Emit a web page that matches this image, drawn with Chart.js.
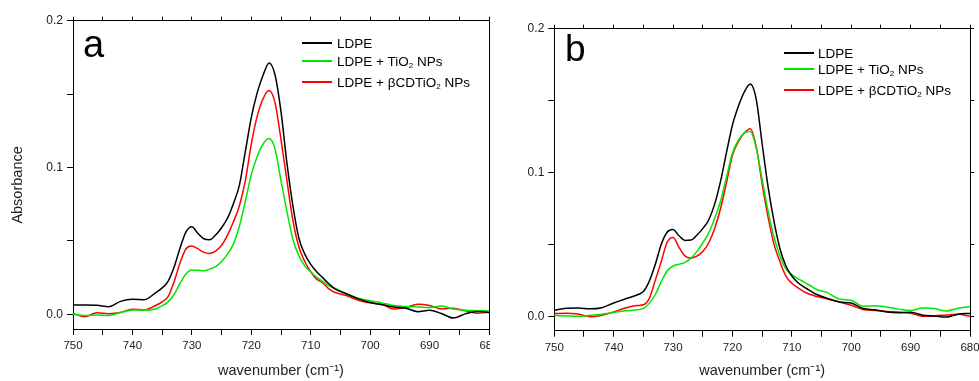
<!DOCTYPE html>
<html>
<head>
<meta charset="utf-8">
<script src="https://cdn.jsdelivr.net/npm/chart.js@4.4.0/dist/chart.umd.min.js"></script>
<style>
  body { margin: 0; background: #fff; width: 979px; height: 381px; overflow: hidden; position: relative;
         font-family: "Liberation Sans", Arial, sans-serif; }
  .panel { position: absolute; top: 0; height: 381px; overflow: hidden; }
  #panelA { left: 0; width: 490px; }
  #panelB { left: 490px; width: 489px; }
  .letter { position: absolute; color: #000; line-height: 1; }
  .legline { position: absolute; width: 30px; height: 2px; }
  .legtext { position: absolute; font-size: 13.5px; line-height: 16px; color: #000; white-space: nowrap; }
  .legtext sub { font-size: 0.6em; vertical-align: -0.3em; line-height: 0; }
</style>
</head>
<body>
<div class="panel" id="panelA"><canvas id="chartA" width="520" height="381"></canvas></div>
<div class="panel" id="panelB"><canvas id="chartB" width="510" height="381"></canvas></div>
<div class="letter" style="left:83px; top:25px; font-size:38px;">a</div>
<div class="letter" style="left:565px; top:30px; font-size:37px;">b</div>
<div id="legendA"></div>
<div id="legendB"></div>
<script>
// wavenumber grid (cm-1), shared by both panels
var wavenumber = [750, 748, 746, 744, 742, 740, 738, 736,
  735, 734, 733, 732, 731, 730, 729, 728, 727, 726, 725, 724, 723, 722, 721, 720, 719, 718, 717, 716,
  715, 714, 713, 712, 711, 710, 709, 708, 707, 706,
  704, 702, 700, 698, 696, 694, 692, 690, 688, 686, 684, 682, 680];

// panel a
var ldpeA = [0.0063, 0.0063, 0.0062, 0.0052, 0.0088, 0.0102, 0.0100, 0.0150,
  0.0180, 0.0225, 0.0320, 0.0450, 0.0560, 0.0596, 0.0552, 0.0515, 0.0508, 0.0540, 0.0590, 0.0655, 0.0755, 0.0880, 0.1110, 0.1340, 0.1510, 0.1630, 0.1712, 0.1630,
  0.1380, 0.1030, 0.0740, 0.0520, 0.0410, 0.0340, 0.0290, 0.0250, 0.0210, 0.0175,
  0.0140, 0.0105, 0.0080, 0.0065, 0.0050, 0.0042, 0.0018, 0.0028, 0.0005, -0.0025, 0.0003, 0.0020, 0.0012];
var tio2A = [0.0000, -0.0008, -0.0005, -0.0008, 0.0012, 0.0030, 0.0028, 0.0038,
  0.0058, 0.0085, 0.0135, 0.0210, 0.0275, 0.0302, 0.0300, 0.0296, 0.0308, 0.0325, 0.0360, 0.0410, 0.0480, 0.0600, 0.0770, 0.0950, 0.1075, 0.1160, 0.1197, 0.1125,
  0.0910, 0.0700, 0.0510, 0.0400, 0.0330, 0.0290, 0.0252, 0.0225, 0.0195, 0.0180,
  0.0138, 0.0110, 0.0092, 0.0078, 0.0060, 0.0053, 0.0050, 0.0046, 0.0056, 0.0036, 0.0027, 0.0025, 0.0023];
var cdTio2A = [0.0005, -0.0016, 0.0010, 0.0004, 0.0012, 0.0035, 0.0030, 0.0062,
  0.0085, 0.0120, 0.0220, 0.0350, 0.0445, 0.0465, 0.0447, 0.0422, 0.0415, 0.0430, 0.0470, 0.0540, 0.0630, 0.0740, 0.0910, 0.1160, 0.1350, 0.1470, 0.1524, 0.1440,
  0.1190, 0.0910, 0.0640, 0.0460, 0.0360, 0.0290, 0.0240, 0.0215, 0.0175, 0.0150,
  0.0128, 0.0095, 0.0078, 0.0068, 0.0036, 0.0046, 0.0068, 0.0060, 0.0036, 0.0042, 0.0024, 0.0008, 0.0014];

// panel b
var ldpeB = [0.0042, 0.0056, 0.0058, 0.0052, 0.0060, 0.0093, 0.0122, 0.0150,
  0.0172, 0.0245, 0.0360, 0.0500, 0.0585, 0.0603, 0.0560, 0.0528, 0.0530, 0.0564, 0.0610, 0.0670, 0.0780, 0.0940, 0.1140, 0.1330, 0.1460, 0.1560, 0.1615, 0.1510,
  0.1200, 0.0900, 0.0660, 0.0470, 0.0350, 0.0280, 0.0235, 0.0205, 0.0180, 0.0155,
  0.0125, 0.0100, 0.0092, 0.0055, 0.0045, 0.0030, 0.0025, 0.0028, 0.0008, 0.0002, -0.0005, 0.0015, 0.0020];
var tio2B = [0.0005, 0.0002, 0.0000, 0.0007, 0.0015, 0.0027, 0.0038, 0.0045,
  0.0055, 0.0090, 0.0150, 0.0240, 0.0315, 0.0350, 0.0362, 0.0375, 0.0405, 0.0450, 0.0510, 0.0580, 0.0680, 0.0800, 0.0970, 0.1135, 0.1225, 0.1275, 0.1285, 0.1170,
  0.0950, 0.0730, 0.0550, 0.0420, 0.0330, 0.0290, 0.0262, 0.0240, 0.0216, 0.0190,
  0.0165, 0.0120, 0.0111, 0.0070, 0.0074, 0.0065, 0.0050, 0.0040, 0.0058, 0.0054, 0.0037, 0.0056, 0.0068];
var cdTio2B = [0.0019, 0.0022, 0.0016, -0.0003, 0.0008, 0.0030, 0.0058, 0.0075,
  0.0080, 0.0125, 0.0250, 0.0380, 0.0515, 0.0548, 0.0480, 0.0420, 0.0405, 0.0418, 0.0450, 0.0510, 0.0610, 0.0750, 0.0930, 0.1120, 0.1215, 0.1275, 0.1305, 0.1180,
  0.0920, 0.0690, 0.0500, 0.0380, 0.0280, 0.0230, 0.0200, 0.0172, 0.0153, 0.0140,
  0.0120, 0.0100, 0.0077, 0.0047, 0.0040, 0.0034, 0.0030, 0.0022, 0.0000, 0.0003, 0.0010, 0.0015, 0.0000];

var seriesNames = ['LDPE', 'LDPE + TiO\u2082 NPs', 'LDPE + \u03B2CDTiO\u2082 NPs'];
var seriesColors = ['#000000', '#00e600', '#ff0000'];
var xMin = 680, xMax = 750, xStep = 5;
var yMin = -0.01, yMax = 0.2, yStep = 0.05;
var xTitle = 'wavenumber (cm\u207B\u00B9)';
var yTitle = 'Absorbance';

Chart.defaults.font.family = '"Liberation Sans", Arial, sans-serif';
Chart.defaults.color = '#222';

function onTenth(v) {
    return Math.abs(v * 10 - Math.round(v * 10)) < 1e-6;
}

function makeChart(id, series, lay) {
    var datasets = series.map(function (vals, i) {
        return {
            label: seriesNames[i],
            data: wavenumber.map(function (w, j) { return {x: w, y: vals[j]}; }),
            borderColor: seriesColors[i],
            borderWidth: 1.5,
            pointRadius: 0,
            fill: false,
            cubicInterpolationMode: 'monotone'
        };
    });
    var frame = {display: true, color: '#000', width: 1};
    var grid = {display: true, drawOnChartArea: false, drawTicks: true, tickLength: 6,
                color: '#000', tickColor: '#000', tickWidth: 1};
    var mirrorGrid = {display: true, drawOnChartArea: false, drawTicks: true, tickLength: 4,
                      color: '#000', tickColor: '#000', tickWidth: 1};

    return new Chart(document.getElementById(id), {
        type: 'line',
        data: {datasets: datasets},
        options: {
            responsive: false,
            animation: false,
            devicePixelRatio: 1,
            layout: {padding: lay.padding},
            plugins: {legend: {display: false}, tooltip: {enabled: false}},
            scales: {
                x: {
                    type: 'linear', position: 'bottom', min: xMin, max: xMax, reverse: true,
                    border: frame, grid: grid,
                    ticks: {
                        stepSize: xStep, autoSkip: false, maxRotation: 0, padding: 4,
                        font: {size: 11.5}, color: '#222',
                        callback: function (v) { return v % 10 === 0 ? String(v) : ''; }
                    },
                    title: {display: true, text: xTitle, font: {size: 14.5}, color: '#222',
                            padding: {top: 0, bottom: 1}},
                    afterFit: function (s) { s.height = lay.xHeight; }
                },
                x2: {
                    type: 'linear', position: 'top', min: xMin, max: xMax, reverse: true,
                    border: frame, grid: mirrorGrid,
                    ticks: {stepSize: xStep, display: false},
                    afterFit: function (s) { s.height = 4; }
                },
                y: {
                    type: 'linear', position: 'left', min: yMin, max: yMax,
                    border: frame, grid: grid,
                    ticks: {
                        stepSize: yStep, includeBounds: false, autoSkip: false, padding: 4,
                        font: {size: 12}, color: '#222',
                        callback: function (v) { return onTenth(v) ? v.toFixed(1) : ''; }
                    },
                    title: {display: lay.showYTitle, text: yTitle + '     ', font: {size: 14.5}, color: '#222',
                            padding: {top: 9, bottom: 0}},
                    afterFit: function (s) { s.width = lay.yWidth; }
                },
                y2: {
                    type: 'linear', position: 'right', min: yMin, max: yMax,
                    border: frame, grid: mirrorGrid,
                    ticks: {stepSize: yStep, includeBounds: false, display: false},
                    afterFit: function (s) { s.width = 4; }
                }
            }
        }
    });
}

function makeLegend(id, lineLeft, textLeft, rows) {
    var box = document.getElementById(id);
    seriesNames.forEach(function (name, i) {
        var ln = document.createElement('div');
        ln.className = 'legline';
        ln.style.left = Math.round(lineLeft) + 'px';
        ln.style.top = Math.round(rows[i] - 1) + 'px';
        ln.style.background = seriesColors[i];
        box.appendChild(ln);
        var tx = document.createElement('div');
        tx.className = 'legtext';
        tx.style.left = Math.round(textLeft) + 'px';
        tx.style.top = Math.round(rows[i] - 7) + 'px';
        tx.innerHTML = name.replace(/\u2082/g, '<sub>2</sub>');
        box.appendChild(tx);
    });
}

makeChart('chartA', [ldpeA, tio2A, cdTio2A], {
    padding: {left: 0, top: 16.7, right: 27, bottom: 0},
    xHeight: 52, yWidth: 73, showYTitle: true
});
makeChart('chartB', [ldpeB, tio2B, cdTio2B], {
    padding: {left: 0, top: 24.7, right: 26, bottom: 0},
    xHeight: 50.3, yWidth: 64.3, showYTitle: false
});

makeLegend('legendA', 302, 337, [43.3, 61, 81.7]);
makeLegend('legendB', 784.3, 818.3, [52.7, 69.3, 90]);
</script>
</body>
</html>
